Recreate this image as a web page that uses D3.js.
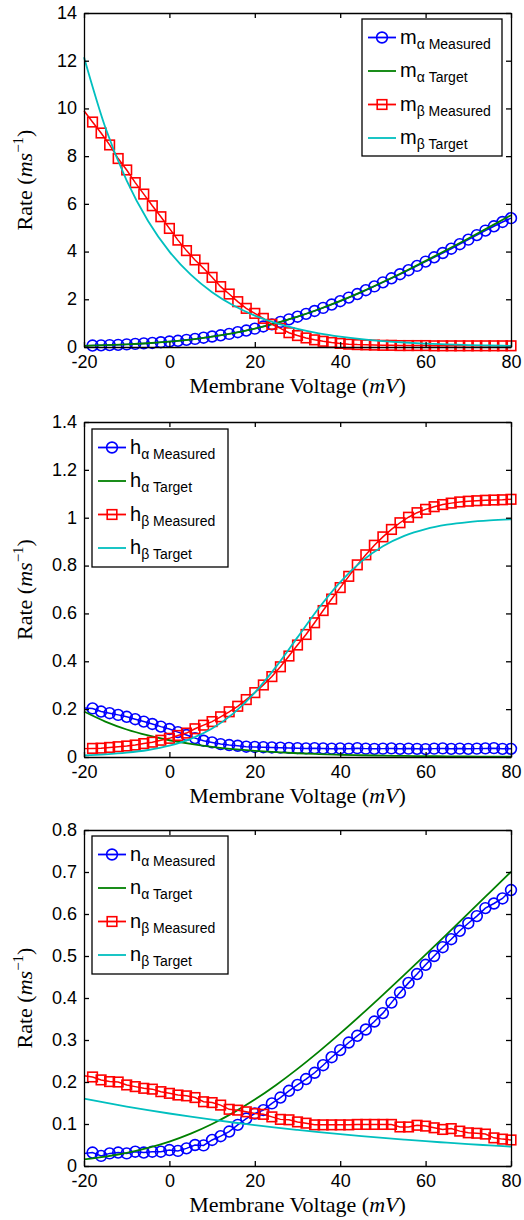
<!DOCTYPE html>
<html><head><meta charset="utf-8">
<script src="https://cdn.jsdelivr.net/npm/d3@7"></script>
<style>body{margin:0;background:#fff}svg{display:block}</style>
</head><body><svg id="c" width="524" height="1220"></svg>
<script>
// ---------- data ----------
const voltMeas = [-20,-18,-16,-14,-12,-10,-8,-6,-4,-2,0,2,4,6,8,10,12,14,16,18,20,22,24,26,28,30,32,34,36,38,40,42,44,46,48,50,52,54,56,58,60,62,64,66,68,70,72,74,76,78,80];
const voltTarget = [-20,-15,-10,-5,0,5,10,15,20,25,30,35,40,45,50,55,60,65,70,75,80];
const xTicks = [-20,0,20,40,60,80];

const mAlphaMeasured = [0.05,0.06,0.07,0.08,0.09,0.11,0.13,0.15,0.17,0.20,0.23,0.26,0.30,0.34,0.39,0.44,0.49,0.55,0.62,0.69,0.77,0.86,0.95,1.05,1.16,1.27,1.39,1.51,1.64,1.78,1.92,2.07,2.22,2.38,2.54,2.71,2.88,3.05,3.22,3.40,3.58,3.76,3.94,4.12,4.31,4.50,4.69,4.88,5.06,5.24,5.40];
const mAlphaTarget = [0.051,0.075,0.109,0.157,0.224,0.313,0.431,0.582,0.771,1.000,1.271,1.582,1.931,2.313,2.724,3.157,3.609,4.075,4.551,5.034,5.523];
const mBetaMeasured = [9.90,9.43,8.97,8.47,7.90,7.42,6.89,6.41,5.92,5.46,4.97,4.48,4.04,3.65,3.30,2.92,2.53,2.22,1.90,1.62,1.41,1.20,0.95,0.78,0.60,0.48,0.38,0.30,0.24,0.19,0.15,0.12,0.10,0.09,0.08,0.07,0.07,0.06,0.06,0.06,0.06,0.05,0.05,0.05,0.05,0.05,0.05,0.05,0.05,0.05,0.05];
const mBetaTarget = [12.15,9.20,6.97,5.28,4.00,3.03,2.295,1.738,1.317,0.997,0.756,0.572,0.434,0.328,0.249,0.188,0.143,0.108,0.082,0.062,0.047];

const hAlphaMeasured = [0.205,0.203,0.190,0.183,0.176,0.168,0.158,0.148,0.138,0.127,0.117,0.104,0.092,0.079,0.068,0.061,0.054,0.050,0.047,0.043,0.042,0.041,0.040,0.039,0.038,0.037,0.036,0.037,0.036,0.035,0.036,0.035,0.037,0.035,0.034,0.035,0.036,0.034,0.035,0.034,0.033,0.035,0.036,0.034,0.035,0.034,0.035,0.036,0.037,0.034,0.034];
const hAlphaTarget = [0.190,0.148,0.115,0.090,0.070,0.0545,0.0425,0.0331,0.0258,0.0201,0.0156,0.0122,0.0095,0.0074,0.0057,0.0045,0.0035,0.0027,0.0021,0.0016,0.0013];
const hBetaMeasured = [0.035,0.036,0.037,0.040,0.043,0.046,0.050,0.056,0.062,0.070,0.078,0.090,0.100,0.118,0.133,0.148,0.168,0.189,0.212,0.240,0.269,0.301,0.336,0.377,0.422,0.468,0.512,0.561,0.612,0.660,0.708,0.755,0.803,0.845,0.885,0.920,0.951,0.979,1.002,1.021,1.035,1.046,1.055,1.061,1.066,1.069,1.071,1.073,1.074,1.075,1.077];
const hBetaTarget = [0.0067,0.0110,0.0180,0.0293,0.0474,0.0759,0.1192,0.1824,0.2689,0.3775,0.5,0.6225,0.7311,0.8176,0.8808,0.9241,0.9526,0.9707,0.9820,0.9890,0.9933];

const nAlphaMeasured = [0.030,0.032,0.024,0.030,0.032,0.030,0.034,0.032,0.034,0.034,0.038,0.036,0.042,0.050,0.049,0.062,0.071,0.082,0.098,0.113,0.125,0.133,0.149,0.163,0.179,0.193,0.207,0.222,0.240,0.259,0.276,0.294,0.310,0.325,0.344,0.364,0.389,0.413,0.436,0.457,0.479,0.500,0.521,0.540,0.560,0.578,0.595,0.614,0.625,0.637,0.657];
const nAlphaTarget = [0.0157,0.0224,0.0313,0.0431,0.0582,0.0771,0.1,0.1271,0.1582,0.1931,0.2313,0.2724,0.3157,0.3609,0.4075,0.4551,0.5034,0.5523,0.6015,0.651,0.7006];
const nBetaMeasured = [0.215,0.212,0.205,0.201,0.200,0.193,0.189,0.185,0.183,0.177,0.173,0.169,0.167,0.163,0.153,0.151,0.145,0.135,0.133,0.129,0.125,0.123,0.117,0.111,0.110,0.105,0.102,0.098,0.098,0.098,0.098,0.098,0.099,0.099,0.099,0.099,0.099,0.093,0.093,0.097,0.095,0.091,0.087,0.089,0.083,0.079,0.078,0.076,0.067,0.064,0.062];
const nBetaTarget = [0.1605,0.1508,0.1416,0.1331,0.125,0.1174,0.1103,0.1036,0.0974,0.0914,0.0859,0.0807,0.0758,0.0712,0.0669,0.0629,0.0590,0.0555,0.0521,0.0490,0.0460];

const yTicksM = [0,2,4,6,8,10,12,14];
const yTicksH = [0,0.2,0.4,0.6,0.8,1,1.2,1.4];
const yTicksN = [0,0.1,0.2,0.3,0.4,0.5,0.6,0.7,0.8];

const gateLetters = ["m","h","n"];
const legendSubs = ["\u03b1 Measured","\u03b1 Target","\u03b2 Measured","\u03b2 Target"];
const seriesColors = ["#0000ff","#008000","#ff0000","#00bfbf"];

// ---------- layout ----------
const svg = d3.select("#c");
const X0 = 84, X1 = 511;
const panels = [
  {top:13, bottom:347, ticks:yTicksM, series:[mAlphaMeasured,mAlphaTarget,mBetaMeasured,mBetaTarget], legend:{x:362,y:19,w:140,h:137}},
  {top:422, bottom:757, ticks:yTicksH, series:[hAlphaMeasured,hAlphaTarget,hBetaMeasured,hBetaTarget], legend:{x:92,y:429,w:136,h:138}},
  {top:830, bottom:1166, ticks:yTicksN, series:[nAlphaMeasured,nAlphaTarget,nBetaMeasured,nBetaTarget], legend:{x:92,y:836,w:136,h:138}}
];
const markers = ["circle", null, "square", null];

function drawMarker(g, kind, cx, cy, color){
  if (kind === "circle") {
    g.append("circle").attr("cx",cx).attr("cy",cy).attr("r",5.4)
      .attr("fill","none").attr("stroke",color).attr("stroke-width",1.6);
  } else if (kind === "square") {
    g.append("rect").attr("x",cx-4.8).attr("y",cy-4.8).attr("width",9.6).attr("height",9.6)
      .attr("fill","none").attr("stroke",color).attr("stroke-width",1.6);
  }
}

panels.forEach((p, pi) => {
  const x = d3.scaleLinear([-20,80],[X0,X1]);
  const yMax = p.ticks[p.ticks.length-1];
  const y = d3.scaleLinear([0,yMax],[p.bottom,p.top]);
  const g = svg.append("g");

  // series
  p.series.forEach((vals, si) => {
    const isMeas = si % 2 === 0;
    const xs = isMeas ? voltMeas : voltTarget;
    const pts = xs.map((v,i)=>[v, vals[i]]);
    const line = d3.line().x(d=>x(d[0])).y(d=>y(d[1]))
      .curve(isMeas ? d3.curveLinear : d3.curveMonotoneX);
    g.append("path").attr("d", line(pts)).attr("fill","none")
      .attr("stroke", seriesColors[si]).attr("stroke-width", isMeas ? 1.5 : 1.8);
    if (markers[si]) {
      pts.slice(1).forEach(d => drawMarker(g, markers[si], x(d[0]), y(d[1]), seriesColors[si]));
    }
  });

  // axes (inward ticks on all four sides)
  const fmt = d => String(d);
  const ax = [
    [d3.axisBottom(x).tickValues(xTicks).tickSize(-5).tickSizeOuter(0).tickPadding(8).tickFormat(fmt), `translate(0,${p.bottom})`],
    [d3.axisTop(x).tickValues(xTicks).tickSize(-5).tickSizeOuter(0).tickFormat(""), `translate(0,${p.top})`],
    [d3.axisLeft(y).tickValues(p.ticks).tickSize(-5).tickSizeOuter(0).tickPadding(7).tickFormat(fmt), `translate(${X0},0)`],
    [d3.axisRight(y).tickValues(p.ticks).tickSize(-5).tickSizeOuter(0).tickFormat(""), `translate(${X1},0)`]
  ];
  ax.forEach(([a, tr], ai) => {
    const ag = g.append("g").attr("transform", tr).call(a);
    ag.selectAll("path,line").attr("stroke","#000").attr("stroke-width",1.3);
    ag.selectAll("text").attr("fill","#000").attr("font-family","Liberation Sans, Arial, sans-serif").attr("font-size",18);
    if (ai === 2) ag.selectAll("text").attr("dy","0.3em");
  });

  // legend
  const L = p.legend;
  const lg = g.append("g");
  lg.append("rect").attr("x",L.x).attr("y",L.y).attr("width",L.w).attr("height",L.h)
    .attr("fill","#fff").attr("stroke","#000").attr("stroke-width",1.3);
  legendSubs.forEach((sub, si) => {
    const ly = L.y + 18.5 + si*33.5;
    lg.append("line").attr("x1",L.x+6).attr("x2",L.x+34).attr("y1",ly).attr("y2",ly)
      .attr("stroke",seriesColors[si]).attr("stroke-width",1.8);
    if (markers[si]) drawMarker(lg, markers[si], L.x+20, ly, seriesColors[si]);
    const t = lg.append("text").attr("x",L.x+38).attr("y",ly+6)
      .attr("font-family","Liberation Sans, Arial, sans-serif").attr("fill","#000");
    t.append("tspan").attr("font-size",20).text(gateLetters[pi]);
    t.append("tspan").attr("font-size",14).attr("dy",5).text(sub);
  });

  // axis labels
  const xl = g.append("text").attr("x",(X0+X1)/2).attr("y",p.bottom+46)
    .attr("text-anchor","middle").attr("font-family","Liberation Serif, Times New Roman, serif")
    .attr("font-size",22).attr("fill","#000");
  xl.append("tspan").text("Membrane Voltage (");
  xl.append("tspan").attr("font-style","italic").text("mV");
  xl.append("tspan").text(")");

  const cy = (p.top+p.bottom)/2;
  const yl = g.append("text").attr("transform",`translate(32,${cy}) rotate(-90)`)
    .attr("text-anchor","middle").attr("font-family","Liberation Serif, Times New Roman, serif")
    .attr("font-size",22).attr("fill","#000");
  yl.append("tspan").text("Rate (");
  yl.append("tspan").attr("font-style","italic").text("ms");
  yl.append("tspan").attr("font-size",15).attr("dy",-9).text("\u22121");
  yl.append("tspan").attr("dy",9).text(")");
});
</script></body></html>
